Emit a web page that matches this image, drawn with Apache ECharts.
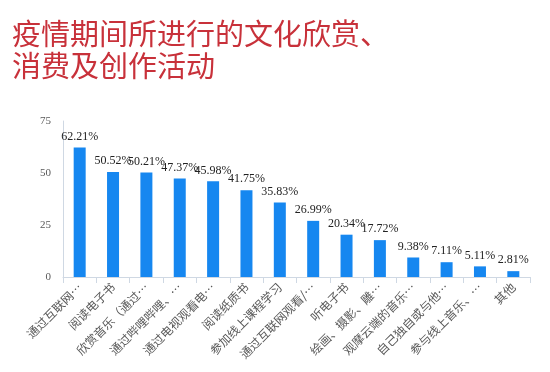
<!DOCTYPE html>
<html><head><meta charset="utf-8">
<script src="https://cdn.jsdelivr.net/npm/echarts@6/dist/echarts.min.js"></script>
<style>html,body{margin:0;padding:0;background:#fff}#c{width:550px;height:372px}</style>
</head><body><div id="c"></div>
<script>
const titleText = "疫情期间所进行的文化欣赏、\n消费及创作活动";
const categories = ["通过互联网…","阅读电子书","欣赏音乐（通过…","通过哔哩哔哩、…","通过电视观看电…","阅读纸质书","参加线上课程学习","通过互联网观看/…","听电子书","绘画、摄影、雕…","观摩云端的音乐…","自己独自或与他…","参与线上音乐、…","其他"];
const values = [62.21,50.52,50.21,47.37,45.98,41.75,35.83,26.99,20.34,17.72,9.38,7.11,5.11,2.81];
const yTicks = [0,25,50,75];

const chart = echarts.init(document.getElementById('c'), null, {renderer:'canvas'});
chart.setOption({
  animation:false,
  title:{text:titleText,left:7,top:13,textStyle:{color:'#c8313a',fontSize:29,fontWeight:'normal',fontFamily:'Noto Sans CJK SC',lineHeight:32}},
  grid:{left:63,right:20,top:121,bottom:95,containLabel:false},
  xAxis:{type:'category',data:categories,
    axisLine:{lineStyle:{color:'#cfd8e3'}},
    axisTick:{show:true,lineStyle:{color:'#cfd8e3'},length:6},
    axisLabel:{rotate:45,interval:0,color:'#595959',fontSize:12,fontFamily:'Noto Sans CJK SC',margin:8}},
  yAxis:{type:'value',min:yTicks[0],max:yTicks[yTicks.length-1],interval:25,
    axisLine:{show:true,lineStyle:{color:'#cfd8e3'}},
    axisTick:{show:false},splitLine:{show:false},
    axisLabel:{color:'#595959',fontSize:11,fontFamily:'Liberation Serif',margin:12}},
  series:[{type:'bar',data:values,barWidth:12,itemStyle:{color:'#1687f0'},
    label:{show:true,position:'top',color:'#222',fontSize:12,fontFamily:'Liberation Serif',distance:5,formatter:p=>p.value.toFixed(2)+'%'}}]
});
</script></body></html>
